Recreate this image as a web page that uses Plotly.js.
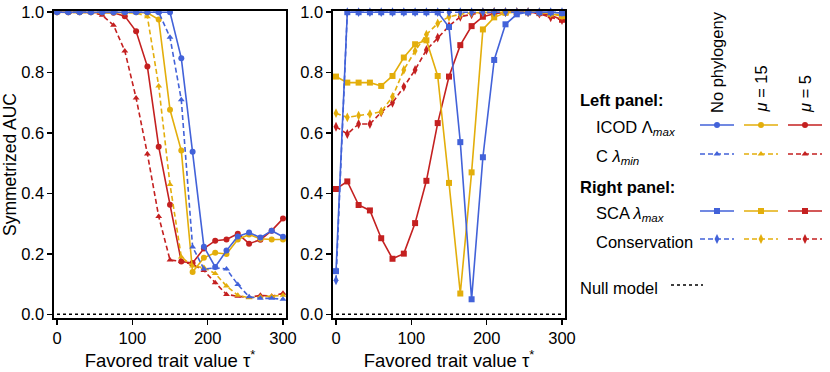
<!DOCTYPE html>
<html>
<head>
<meta charset="utf-8">
<script src="https://cdn.plot.ly/plotly-3.0.1.min.js"></script>
<style>
  body { margin: 0; background: #fff; }
  #chart { width: 830px; height: 372px; }
</style>
</head>
<body>
<div id="chart"></div>
<script>
// favored trait value tau*
var tau = [0, 15, 30, 45, 60, 75, 90, 105, 120, 135, 150, 165, 180, 195, 210, 225, 240, 255, 270, 285, 300];

// left panel: ICOD Lambda_max (solid, circles) and C lambda_min (dashed, triangles)
var icodNoPhylo = [1, 1, 1, 1, 1, 1, 1, 1, 1, 1, 1, 0.848, 0.538, 0.224, 0.157, 0.211, 0.258, 0.271, 0.254, 0.277, 0.257];
var icodMu15 = [1, 1, 1, 1, 1, 1, 1, 1, 0.998, 0.976, 0.677, 0.542, 0.14, 0.187, 0.204, 0.2, 0.248, 0.264, 0.25, 0.248, 0.248];
var icodMu5 = [1, 1, 1, 1, 1, 0.998, 0.987, 0.937, 0.82, 0.555, 0.363, 0.175, 0.17, 0.218, 0.244, 0.248, 0.267, 0.234, 0.247, 0.277, 0.317];
var cNoPhylo = [1, 1, 1, 1, 1, 1, 1, 1, 1, 1, 0.917, 0.71, 0.223, 0.15, 0.154, 0.15, 0.099, 0.058, 0.053, 0.053, 0.05];
var cMu15 = [1, 1, 1, 1, 1, 1, 1, 0.998, 0.985, 0.756, 0.43, 0.19, 0.16, 0.155, 0.135, 0.094, 0.063, 0.055, 0.058, 0.06, 0.063];
var cMu5 = [1, 1, 1, 1, 0.99, 0.957, 0.872, 0.716, 0.531, 0.324, 0.18, 0.175, 0.165, 0.145, 0.105, 0.066, 0.06, 0.056, 0.063, 0.06, 0.07];

// right panel: SCA lambda_max (solid, squares) and Conservation (dashed, diamonds)
var scaNoPhylo = [0.143, 1, 1, 1, 1, 1, 1, 1, 1, 1, 0.951, 0.57, 0.05, 0.52, 0.842, 0.96, 0.993, 1, 1, 1, 0.997];
var scaMu15 = [0.787, 0.767, 0.767, 0.767, 0.756, 0.789, 0.85, 0.894, 0.907, 0.789, 0.435, 0.069, 0.47, 0.943, 0.983, 0.998, 1, 1, 1, 0.995, 0.987];
var scaMu5 = [0.415, 0.44, 0.362, 0.344, 0.252, 0.184, 0.201, 0.302, 0.442, 0.633, 0.787, 0.891, 0.954, 0.985, 0.995, 1, 1, 1, 0.997, 0.99, 0.975];
var consNoPhylo = [0.113, 1, 1, 1, 1, 1, 1, 1, 1, 1, 1, 1, 1, 1, 1, 1, 1, 1, 1, 1, 1];
var consMu15 = [0.666, 0.652, 0.658, 0.663, 0.671, 0.72, 0.809, 0.872, 0.926, 0.963, 0.985, 0.993, 0.998, 1, 1, 1, 1, 1, 1, 0.995, 0.99];
var consMu5 = [0.621, 0.597, 0.63, 0.63, 0.669, 0.7, 0.753, 0.809, 0.875, 0.916, 0.954, 0.985, 0.993, 0.998, 1, 1, 1, 1, 0.995, 0.983, 0.974];

var nullModel = tau.map(function() { return 0; });

var columns = ['No phylogeny', '<i>μ</i> = 15', '<i>μ</i> = 5'];
var blue = '#4262d9', yellow = '#e3ae0b', red = '#c42020';
var colors = [blue, yellow, red];
var dashed = '5px,3px';

var W = 830, H = 372;
function px(x) { return x / W; }
function py(y) { return 1 - y / H; }

function series(y, color, dash, symbol, xa, ya) {
    return {
        x: tau, y: y, type: 'scatter', mode: 'lines+markers',
        xaxis: xa, yaxis: ya, showlegend: false, hoverinfo: 'skip', cliponaxis: false,
        line: {color: color, width: 1.6, dash: dash},
        marker: {color: color, size: symbol === 'diamond-tall' ? 7 : 6, symbol: symbol}
    };
}

var data = [];
// null model lines
data.push({x: tau, y: nullModel, type: 'scatter', mode: 'lines', xaxis: 'x', yaxis: 'y', showlegend: false,
    line: {color: '#000', width: 1.5, dash: 'dot'}});
data.push({x: tau, y: nullModel, type: 'scatter', mode: 'lines', xaxis: 'x2', yaxis: 'y2', showlegend: false,
    line: {color: '#000', width: 1.5, dash: 'dot'}});

var leftSolid = [icodNoPhylo, icodMu15, icodMu5];
var leftDash = [cNoPhylo, cMu15, cMu5];
var rightSolid = [scaNoPhylo, scaMu15, scaMu5];
var rightDash = [consNoPhylo, consMu15, consMu5];
for (var i = 2; i >= 0; i--) {
    data.push(series(leftDash[i], colors[i], dashed, 'triangle-up', 'x', 'y'));
    data.push(series(leftSolid[i], colors[i], 'solid', 'circle', 'x', 'y'));
    data.push(series(rightDash[i], colors[i], dashed, 'diamond-tall', 'x2', 'y2'));
    data.push(series(rightSolid[i], colors[i], 'solid', 'square', 'x2', 'y2'));
}

// legend samples, drawn in a pixel-space overlay axis
var legendRows = [
    {y: 125, dash: 'solid', symbol: 'circle'},
    {y: 154, dash: dashed, symbol: 'triangle-up'},
    {y: 211, dash: 'solid', symbol: 'square'},
    {y: 239, dash: dashed, symbol: 'diamond-tall'}
];
var legendCols = [700, 744, 788];
legendRows.forEach(function(r) {
    legendCols.forEach(function(x0, j) {
        data.push({x: [x0, x0 + 34], y: [r.y, r.y], type: 'scatter', mode: 'lines', xaxis: 'x3', yaxis: 'y3',
            showlegend: false, hoverinfo: 'skip', line: {color: colors[j], width: 1.6, dash: r.dash}});
        data.push({x: [x0 + 17], y: [r.y], type: 'scatter', mode: 'markers', xaxis: 'x3', yaxis: 'y3',
            showlegend: false, hoverinfo: 'skip',
            marker: {color: colors[j], size: r.symbol === 'diamond-tall' ? 7 : 6, symbol: r.symbol}});
    });
});
data.push({x: [671, 703], y: [285, 285], type: 'scatter', mode: 'lines', xaxis: 'x3', yaxis: 'y3',
    showlegend: false, hoverinfo: 'skip', line: {color: '#000', width: 1.3, dash: 'dot'}});

var font = {family: 'Liberation Sans, Arial, sans-serif', color: '#000'};
function xAxis(domain, anchor) {
    return {
        domain: domain, range: [-4, 304], tickvals: [0, 100, 200, 300], anchor: anchor,
        showgrid: false, zeroline: false, showline: true, mirror: true, linecolor: '#000', linewidth: 1.6,
        ticks: 'outside', ticklen: 5, tickwidth: 1.6, tickcolor: '#000',
        tickfont: {family: font.family, size: 16.5, color: '#000'},
        title: {text: 'Favored trait value τ<sup>*</sup>', font: {family: font.family, size: 18.5, color: '#000'}, standoff: 2}
    };
}
function yAxis(anchor) {
    return {
        domain: [py(318), py(11)], range: [-0.012, 1.004], anchor: anchor,
        tickvals: [0, 0.2, 0.4, 0.6, 0.8, 1.0], ticktext: ['0.0', '0.2', '0.4', '0.6', '0.8', '1.0'],
        showgrid: false, zeroline: false, showline: true, mirror: true, linecolor: '#000', linewidth: 1.6,
        ticks: 'outside', ticklen: 5, tickwidth: 1.6, tickcolor: '#000',
        tickfont: {family: font.family, size: 16.5, color: '#000'}
    };
}

var yLeft = yAxis('x');
yLeft.title = {text: 'Symmetrized AUC', font: {family: font.family, size: 17.5, color: '#000'}, standoff: 4};

var layout = {
    width: W, height: H,
    margin: {l: 0, r: 0, t: 0, b: 0},
    paper_bgcolor: '#fff', plot_bgcolor: 'rgba(0,0,0,0)',
    font: font,
    xaxis: xAxis([px(54), px(286)], 'y'),
    xaxis2: xAxis([px(333), px(565)], 'y2'),
    yaxis: yLeft,
    yaxis2: yAxis('x2'),
    xaxis3: {domain: [0, 1], range: [0, W], visible: false, fixedrange: true, anchor: 'y3'},
    yaxis3: {domain: [0, 1], range: [H, 0], visible: false, fixedrange: true, anchor: 'x3'},
    annotations: [],
    showlegend: false
};

function label(text, x, y, opts) {
    var a = {text: text, xref: 'paper', yref: 'paper', x: px(x), y: py(y), showarrow: false,
        xanchor: 'left', yanchor: 'middle', font: {family: font.family, size: 16.5, color: '#000'}};
    return Object.assign(a, opts || {});
}
layout.annotations.push(label('<b>Left panel:</b>', 578, 100));
layout.annotations.push(label('ICOD Λ<sub><i>max</i></sub>', 594, 128));
layout.annotations.push(label('C <i>λ</i><sub><i>min</i></sub>', 594, 157));
layout.annotations.push(label('<b>Right panel:</b>', 578, 187));
layout.annotations.push(label('SCA <i>λ</i><sub><i>max</i></sub>', 594, 214));
layout.annotations.push(label('Conservation', 594, 242));
layout.annotations.push(label('Null model', 578, 288));
legendCols.forEach(function(x0, j) {
    layout.annotations.push(label(columns[j], x0 + 17, 115, {textangle: -90, xanchor: 'center', yanchor: 'bottom'}));
});

Plotly.newPlot('chart', data, layout, {staticPlot: true});
</script>
</body>
</html>
